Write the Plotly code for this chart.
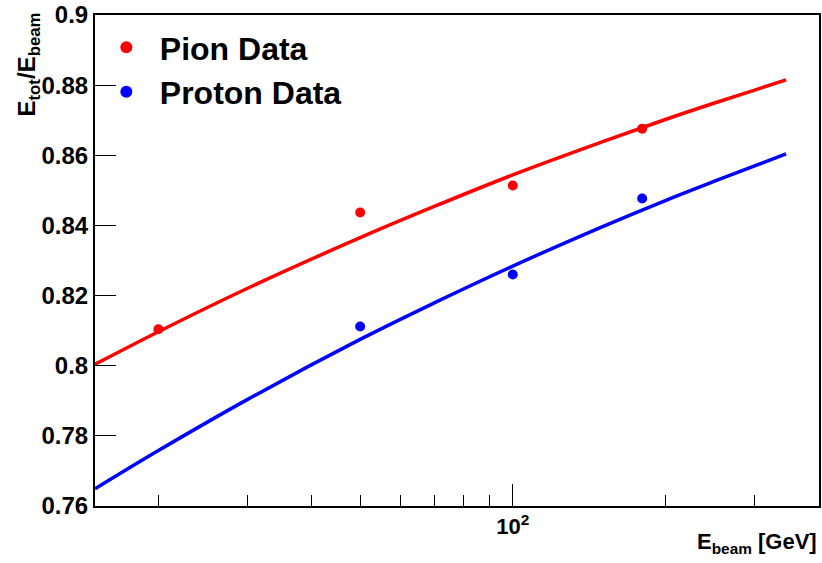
import plotly.graph_objects as go

# Data points
energies = [20, 50, 100, 180]
pion_resp = [0.8104, 0.8437, 0.8514, 0.8676]
energies_p = [50, 100, 180]
proton_resp = [0.8112, 0.8260, 0.8477]

# Fit curves
fit_x = [15, 20, 30, 50, 70, 100, 150, 200, 250, 300, 346]
pion_fit = [0.8004, 0.8097, 0.8221, 0.8365, 0.8454, 0.8544, 0.8638, 0.8702, 0.8749, 0.8786, 0.8815]
proton_fit = [0.7649, 0.7758, 0.7904, 0.8075, 0.8179, 0.8284, 0.8396, 0.8471, 0.8526, 0.8570, 0.8604]

y_ticks = [0.76, 0.78, 0.8, 0.82, 0.84, 0.86, 0.88, 0.9]
y_ticktext = ["0.76", "0.78", "0.8", "0.82", "0.84", "0.86", "0.88", "0.9"]
x_minor = [20, 30, 40, 50, 60, 70, 80, 90, 200, 300]

FONT = "Liberation Sans, Arial, sans-serif"

fig = go.Figure()
fig.add_trace(go.Scatter(x=fit_x, y=pion_fit, mode="lines",
                         line=dict(color="#ff0000", width=3.5, shape="spline"),
                         showlegend=False))
fig.add_trace(go.Scatter(x=fit_x, y=proton_fit, mode="lines",
                         line=dict(color="#0000ff", width=3.5, shape="spline"),
                         showlegend=False))
fig.add_trace(go.Scatter(x=energies, y=pion_resp, mode="markers", name="<b>Pion Data</b>",
                         marker=dict(color="#ff0000", size=10)))
fig.add_trace(go.Scatter(x=energies_p, y=proton_resp, mode="markers", name="<b>Proton Data</b>",
                         marker=dict(color="#0000ff", size=10)))

fig.update_layout(
    width=822, height=563,
    margin=dict(l=95, r=1, t=14, b=57),
    paper_bgcolor="white", plot_bgcolor="white",
    font=dict(family=FONT, color="black"),
    legend=dict(x=-0.003, y=0.99, xanchor="left", yanchor="top",
                font=dict(size=32, family=FONT, color="black"),
                bgcolor="rgba(0,0,0,0)", itemsizing="constant",
                itemwidth=57, tracegroupgap=0),
    xaxis=dict(type="log", range=[1.176, 2.604],
               tickvals=[100], ticktext=["<b>10<sup>2</sup></b>"],
               ticks="inside", ticklen=22, tickwidth=1, tickcolor="black",
               minor=dict(tickvals=x_minor, ticks="inside", ticklen=11,
                          tickwidth=1, tickcolor="black", showgrid=False),
               showgrid=False, zeroline=False,
               showline=True, linecolor="black", linewidth=2, mirror=True,
               tickfont=dict(size=22, family=FONT, color="black")),
    yaxis=dict(range=[0.76, 0.9], tickvals=y_ticks,
               ticktext=["<b>%s</b>" % t for t in y_ticktext],
               ticks="inside", ticklen=21, tickwidth=1, tickcolor="black",
               showgrid=False, zeroline=False,
               showline=True, linecolor="black", linewidth=2, mirror=True,
               tickfont=dict(size=24, family=FONT, color="black")),
    annotations=[
        dict(text="<b>E<sub>tot</sub>/E<sub>beam</sub></b>", xref="paper", yref="paper",
             x=-0.092, y=1.01, xanchor="center", yanchor="top", textangle=-90,
             showarrow=False, font=dict(size=24, family=FONT, color="black")),
        dict(text="<b>E<sub>beam</sub> [GeV]</b>", xref="paper", yref="paper",
             x=1.0, y=-0.042, xanchor="right", yanchor="top",
             showarrow=False, font=dict(size=22, family=FONT, color="black")),
    ],
)

fig.write_html("out.html")
